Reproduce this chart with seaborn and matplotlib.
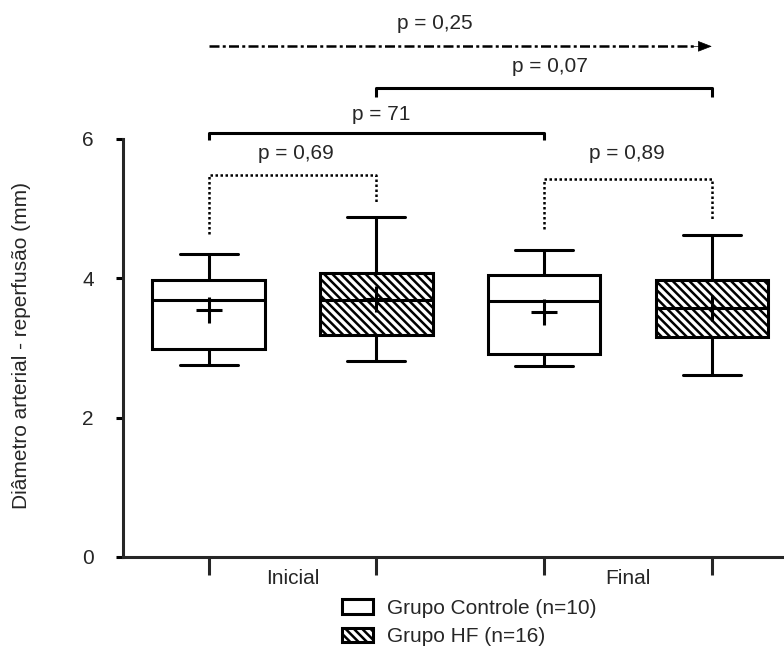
import numpy as np
import pandas as pd
import matplotlib
matplotlib.use("Agg")
import matplotlib.pyplot as plt
import seaborn as sns
from matplotlib.patches import Patch

# ---------------- data ----------------
momentos = ["Inicial", "Final"]
grupos = ["Grupo Controle (n=10)", "Grupo HF (n=16)"]

# five-number summaries per box: min, Q1, median, Q3, max
controle_inicial = [2.75, 2.98, 3.69, 3.98, 4.35]
hf_inicial = [2.81, 3.18, 3.69, 4.08, 4.88]
controle_final = [2.74, 2.91, 3.67, 4.05, 4.41]
hf_final = [2.61, 3.16, 3.57, 3.98, 4.62]

# means (the "+" markers)
medias_controle = [3.54, 3.52]
medias_hf = [3.70, 3.57]

p_labels = ["p = 0,25", "p = 0,07", "p = 71", "p = 0,69", "p = 0,89"]
yticks = [0, 2, 4, 6]
ylabel = "Diâmetro arterial - reperfusão (mm)"

# ---------------- style ----------------
sns.set_style("ticks")
plt.rcParams["font.family"] = ["Liberation Sans", "DejaVu Sans"]
plt.rcParams["hatch.linewidth"] = 1.8
plt.rcParams["hatch.color"] = "black"
FS = 15
LW = 2.2

rows = []
for mom, grp, vals in [
    (momentos[0], grupos[0], controle_inicial),
    (momentos[0], grupos[1], hf_inicial),
    (momentos[1], grupos[0], controle_final),
    (momentos[1], grupos[1], hf_final),
]:
    for v in vals:
        rows.append({"Momento": mom, "Grupo": grp, "valor": v})
df = pd.DataFrame(rows)

fig = plt.figure(figsize=(7.84, 6.52), dpi=100)
ax = fig.add_axes([123 / 784, 1 - 557 / 652, (784 - 123) / 784, (557 - 139) / 652])

WIDTH = 1.0
sns.boxplot(
    data=df, x="Momento", y="valor", hue="Grupo",
    order=momentos, hue_order=grupos,
    palette=["white", "white"], saturation=1,
    width=WIDTH, gap=0.33, whis=(0, 100),
    linecolor="black", linewidth=LW, legend=False, ax=ax,
    capwidths=0.173,
)

# hatch the HF boxes
try:
    for box in ax.containers[1].boxes:
        box.set_hatch("\\\\\\\\")
except Exception:
    pass

offsets = (np.arange(len(grupos)) - 0.5) * WIDTH / len(grupos)
pos_c = np.arange(len(momentos)) + offsets[0]
pos_h = np.arange(len(momentos)) + offsets[1]

ax.scatter(pos_c, medias_controle, marker="+", s=330, linewidths=LW, color="black", zorder=6)
ax.scatter(pos_h, medias_hf, marker="+", s=330, linewidths=LW, color="black", zorder=6)

# axes
ax.set_xlim(-0.505, 1.465)
ax.set_ylim(0, 6)
ax.set_yticks(yticks)
ax.set_yticklabels([str(t) for t in yticks], fontsize=FS)
ax.tick_params(axis="y", length=5, width=LW, pad=16, color="black")
box_pos = np.sort(np.concatenate([pos_c, pos_h]))
ax.set_xticks(box_pos)
ax.set_xticklabels([""] * len(box_pos))
ax.tick_params(axis="x", which="major", length=13, width=LW, direction="out")
ax.set_xticks(np.arange(len(momentos)), minor=True)
ax.set_xticklabels(momentos, minor=True, fontsize=FS)
ax.tick_params(axis="x", which="minor", length=0, pad=9)
ax.set_xlabel("")
ax.set_ylabel(ylabel, fontsize=FS)
ax.yaxis.set_label_coords(-0.139, 0.505)
sns.despine(ax=ax)
for s in ["left", "bottom"]:
    ax.spines[s].set_linewidth(LW)

# ---------------- annotations ----------------
def bracket(x0, x1, ytop, yl, yr, ls="-", lw=LW):
    ax.plot([x0, x0, x1, x1], [yl, ytop, ytop, yr], color="black", lw=lw,
            ls=ls, clip_on=False, solid_capstyle="butt", zorder=5)

# dash-dot arrow
ya = 7.33
ax.plot([pos_c[0], 1.20], [ya, ya], color="black", lw=1.8,
        ls=(0, (4, 1.3, 1.2, 1.3)), clip_on=False)
ax.annotate("", xy=(pos_h[1], ya), xytext=(1.19, ya),
            arrowprops=dict(arrowstyle="-|>,head_length=0.9,head_width=0.35",
                            color="black", lw=0.5, shrinkA=0, shrinkB=0),
            annotation_clip=False)
ax.text(0.425, 7.575, p_labels[0], ha="center", va="baseline", fontsize=FS, clip_on=False)

bracket(pos_h[0], pos_h[1], 6.73, 6.60, 6.60)
ax.text(0.767, 6.955, p_labels[1], ha="center", va="baseline", fontsize=FS, clip_on=False)

bracket(pos_c[0], pos_c[1], 6.083, 5.983, 5.983)
ax.text(0.265, 6.27, p_labels[2], ha="center", va="baseline", fontsize=FS, clip_on=False)

bracket(pos_c[0], pos_h[0], 5.48, 4.634, 5.093, ls=(0, (1, 1)), lw=1.8)
ax.text(0.009, 5.71, p_labels[3], ha="center", va="baseline", fontsize=FS, clip_on=False)

bracket(pos_c[1], pos_h[1], 5.423, 4.706, 4.849, ls=(0, (1, 1)), lw=1.8)
ax.text(0.998, 5.71, p_labels[4], ha="center", va="baseline", fontsize=FS, clip_on=False)

# ---------------- legend ----------------
handles = [
    Patch(facecolor="white", edgecolor="black", lw=LW),
    Patch(facecolor="white", edgecolor="black", lw=LW, hatch="\\\\\\\\"),
]
fig.legend(handles, grupos, loc="upper left",
           bbox_to_anchor=(342 / 784, 1 - 599 / 652),
           frameon=False, borderpad=0, borderaxespad=0,
           handlelength=1.5, handleheight=0.7, handletextpad=0.68,
           labelspacing=0.45, fontsize=FS)

fig.savefig("out.png", dpi=100, facecolor="white")
